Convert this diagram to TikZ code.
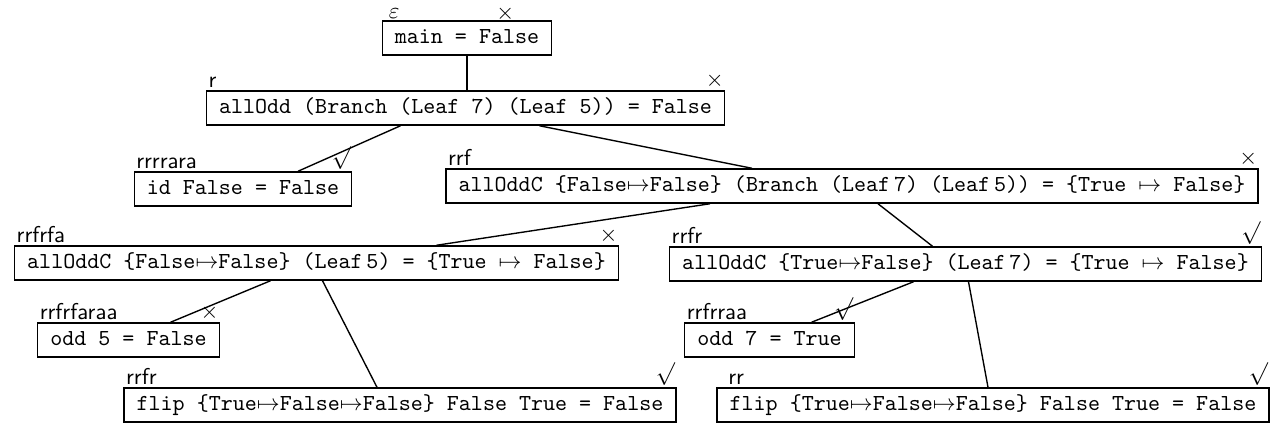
\documentclass[tikz,border=0pt]{standalone}
\usepackage{amsmath, amssymb}
\usetikzlibrary{calc}

\newcommand{\mto}{$\mapsto$}

\tikzset{
  stmt/.style={draw, semithick, font=\ttfamily, text height=7.2pt, text depth=2.3pt,
               inner xsep=5.5pt, inner ysep=2.7pt},
  pathlbl/.style={font=\sffamily, inner sep=1pt, anchor=south west},
  res/.style={inner sep=0.5pt, anchor=south east},
  link/.style={semithick}
}

\begin{document}
\begin{tikzpicture}[x=0.4367pt, y=-0.4367pt]
  \useasboundingbox (0,0) rectangle (1283,433);

  % boxes
  \node[stmt] (main)   at (467,38)    {main = False};
  \node[stmt] (allodd) at (465.5,108) {allOdd (Branch (Leaf 7) (Leaf 5)) = False};
  \node[stmt] (idf)    at (243,189)   {id False = False};
  \node[stmt] (rrf)    at (852,186)   {allOddC \{False\mto False\} (Branch (Leaf\,7) (Leaf\,5)) = \{True \mto{} False\}};
  \node[stmt] (rrfrfa) at (316.5,263) {allOddC \{False\mto False\} (Leaf\,5) = \{True \mto{} False\}};
  \node[stmt] (rrfr)   at (965.5,264) {allOddC \{True\mto False\} (Leaf\,7) = \{True \mto{} False\}};
  \node[stmt] (odd5)   at (128.5,340) {odd 5 = False};
  \node[stmt] (odd7)   at (769.5,340) {odd 7 = True};
  \node[stmt] (flipl)  at (400,405)   {flip \{True\mto False\mto False\} False True = False};
  \node[stmt] (flipr)  at (993,405)   {flip \{True\mto False\mto False\} False True = False};

  % paths
  \node[pathlbl, xshift=2pt, yshift=-0.5pt] (main-p) at (main.north west) {$\varepsilon$};
  \node[pathlbl] (allodd-p) at (allodd.north west) {r};
  \node[pathlbl] (idf-p)    at (idf.north west)    {rrrrara};
  \node[pathlbl] (rrf-p)    at (rrf.north west)    {rrf};
  \node[pathlbl] (rrfrfa-p) at (rrfrfa.north west) {rrfrfa};
  \node[pathlbl] (rrfr-p)   at (rrfr.north west)   {rrfr};
  \node[pathlbl] (odd5-p)   at (odd5.north west)   {rrfrfaraa};
  \node[pathlbl] (odd7-p)   at (odd7.north west)   {rrfrraa};
  \node[pathlbl] (flipl-p)  at (flipl.north west)  {rrfr};
  \node[pathlbl, xshift=4pt] (flipr-p) at (flipr.north west) {rr};

  % verdicts
  \node[res, xshift=-16pt, yshift=-1pt] (main-v) at (main.north east) {$\times$};
  \node[res] (allodd-v) at (allodd.north east) {$\times$};
  \node[res] (idf-v)    at (idf.north east)    {$\surd$};
  \node[res] (rrf-v)    at (rrf.north east)    {$\times$};
  \node[res] (rrfrfa-v) at (rrfrfa.north east) {$\times$};
  \node[res] (rrfr-v)   at (rrfr.north east)   {$\surd$};
  \node[res] (odd5-v)   at (odd5.north east)   {$\times$};
  \node[res] (odd7-v)   at (odd7.north east)   {$\surd$};
  \node[res] (flipl-v)  at (flipl.north east)  {$\surd$};
  \node[res] (flipr-v)  at (flipr.north east)  {$\surd$};

  % tree edges
  \draw[link] (main.south) -- (main.south |- allodd.north);
  \draw[link] ($(allodd.south)+(-65,0)$) -- ($(idf.north)+(55,0)$);
  \draw[link] ($(allodd.south)+(74,0)$)  -- ($(rrf.north)+(-100,0)$);
  \draw[link] ($(rrf.south)+(-142,0)$)   -- ($(rrfrfa.north)+(120,0)$);
  \draw[link] ($(rrf.south)+(26,0)$)     -- ($(rrfr.north)+(-33,0)$);
  \draw[link] ($(rrfrfa.south)+(-46,0)$) -- ($(odd5.north)+(42,0)$);
  \draw[link] ($(rrfrfa.south)+(6,0)$)   -- ($(flipl.north)+(-23,0)$);
  \draw[link] ($(rrfr.south)+(-52,0)$)   -- ($(odd7.north)+(42,0)$);
  \draw[link] ($(rrfr.south)+(3,0)$)     -- ($(flipr.north)+(-5,0)$);
\end{tikzpicture}
\end{document}
